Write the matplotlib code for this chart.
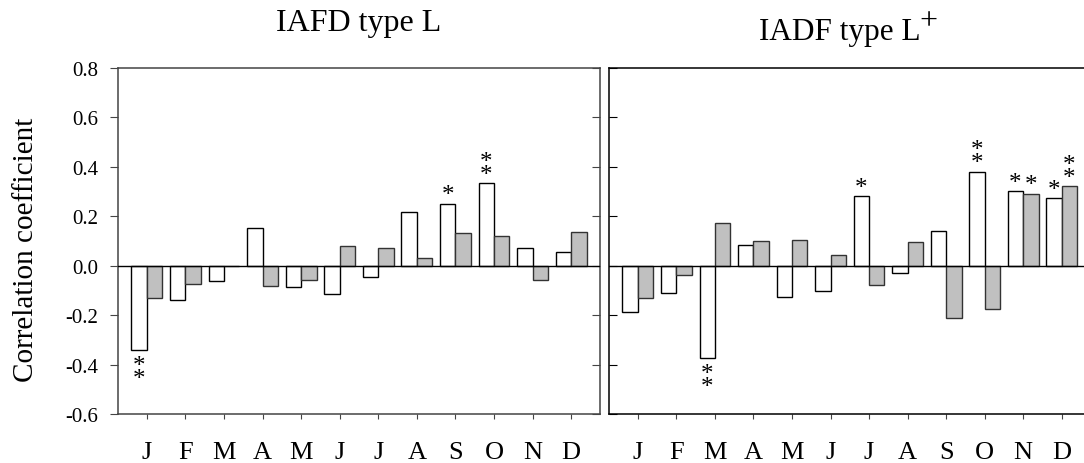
import numpy as np
import matplotlib
matplotlib.use('Agg')
import matplotlib.pyplot as plt
from matplotlib import lines

plt.rcParams['font.family'] = ['Liberation Serif', 'DejaVu Serif']

# Meses
months = ['J', 'F', 'M', 'A', 'M', 'J', 'J', 'A', 'S', 'O', 'N', 'D']

# Coeficientes de correlacion - IAFD tipo L
l_white = [-0.340, -0.138, -0.061, 0.153, -0.088, -0.114, -0.045, 0.219, 0.251, 0.335, 0.072, 0.057]
l_gray = [-0.130, -0.073, -0.003, -0.081, -0.058, 0.080, 0.072, 0.031, 0.131, 0.119, -0.057, 0.136]

# Coeficientes de correlacion - IADF tipo L+
lp_white = [-0.188, -0.111, -0.373, 0.084, -0.127, -0.104, 0.281, -0.031, 0.141, 0.381, 0.303, 0.274]
lp_gray = [-0.130, -0.036, 0.173, 0.100, 0.104, 0.045, -0.078, 0.095, -0.211, -0.176, 0.292, 0.322]

# Significancia: (mes, serie, numero de asteriscos)
l_sig = [(0, 'w', 2), (8, 'w', 1), (9, 'w', 2)]
lp_sig = [(2, 'w', 2), (6, 'w', 1), (9, 'w', 2), (10, 'w', 1), (10, 'g', 1), (11, 'w', 1), (11, 'g', 2)]

yticks = np.arange(-0.6, 0.81, 0.2)
W = 0.4
GRAY = '#c0c0c0'

FW, FH = 1084, 464
fig = plt.figure(figsize=(FW/100, FH/100), dpi=100)
ax1 = fig.add_axes([118/FW, 49/FH, 482/FW, 346/FH])
ax2 = fig.add_axes([609/FW, 49/FH, 481.6/FW, 346/FH])


def panel(ax, white, gray, sig, spine_col):
    x = np.arange(len(months))
    ax.bar(x - W/2, white, W, color='white', edgecolor='black', linewidth=1.0, zorder=2)
    ax.bar(x + W/2, gray, W, color=GRAY, edgecolor='#333333', linewidth=1.0, zorder=2)
    ax.axhline(0, color='black', linewidth=1.0, zorder=3)
    ax.set_xlim(-0.75, 11.75)
    ax.set_ylim(-0.6, 0.8)
    ax.set_xticks(x)
    ax.set_xticklabels(months, fontsize=19)
    ax.set_yticks(yticks)
    ax.tick_params(axis='x', direction='out', length=3.6, pad=16, color='#444444')
    for s in ax.spines.values():
        s.set_color(spine_col)
        s.set_linewidth(1.1)
    # asteriscos
    for m, serie, n in sig:
        xs = m - W/2 if serie == 'w' else m + W/2
        v = white[m] if serie == 'w' else gray[m]
        txt = '\n'.join(['*'] * n)
        if v >= 0:
            ax.annotate(txt, (xs, v), xytext=(0, -2), textcoords='offset points',
                        ha='center', va='bottom', fontsize=18, linespacing=0.48)
        else:
            ax.annotate(txt, (xs, v), xytext=(0, -3.6), textcoords='offset points',
                        ha='center', va='top', fontsize=18, linespacing=0.48)


panel(ax1, l_white, l_gray, l_sig, '#444444')
panel(ax2, lp_white, lp_gray, lp_sig, 'black')

ax1.set_yticklabels(['%.1f' % v for v in yticks], fontsize=15)
ax1.tick_params(axis='y', direction='out', length=5.8, pad=8.5, color='#444444')
ax1.tick_params(axis='y', right=True, labelright=False)
# ticks del lado derecho hacia adentro
for t in ax1.yaxis.get_major_ticks():
    t.tick2line.set_marker(lines.TICKLEFT)
    t.tick2line.set_markersize(5.8)

ax2.tick_params(axis='y', direction='in', length=5.8, labelleft=False)

ax1.set_ylabel('Correlation coefficient', fontsize=21)
ax1.yaxis.set_label_coords(-0.164, 0.477)

ax1.set_title('IAFD type L', fontsize=23, pad=27)

# titulo derecho con el "+" como superindice
base = FH - 40
t2 = fig.text(759/FW, base/FH, 'IADF type L', fontsize=22.5, ha='left', va='baseline')
fig.canvas.draw()
bb = t2.get_window_extent()
fig.text((bb.x1 - 1)/FW, (base + 10.7)/FH, '+', fontsize=23, ha='left', va='baseline')

plt.savefig('out.png', dpi=100)
